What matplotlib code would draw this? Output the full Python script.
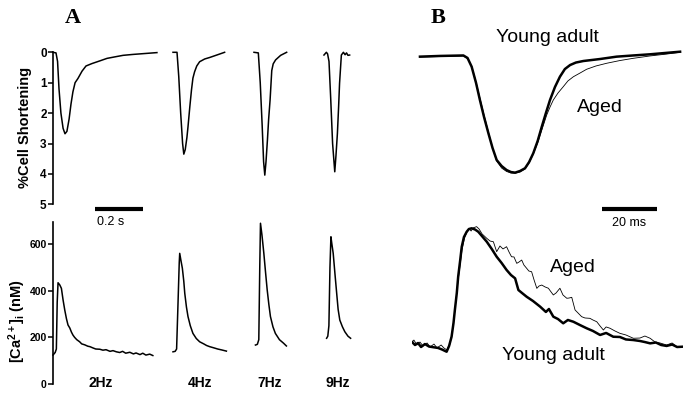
import matplotlib
matplotlib.use("Agg")
import matplotlib.pyplot as plt

plt.rcParams['font.family'] = ['Liberation Sans', 'DejaVu Sans']
plt.rcParams['mathtext.fontset'] = 'custom'
plt.rcParams['mathtext.rm'] = 'Liberation Sans:bold'
plt.rcParams['mathtext.it'] = 'Liberation Sans:bold'
plt.rcParams['mathtext.bf'] = 'Liberation Sans:bold'

# ---------------- Panel A data (time in s, relative to each trace start) -------------
freq_labels = ["2Hz", "4Hz", "7Hz", "9Hz"]
trace_start = [0.0, 0.5, 0.8375, 1.129]      # position of each trace on the time axis (s)
ca_start = [0.0, 0.5, 0.8435, 1.14]

short_2hz_t = [0, .0125, .019, .025, .033, .042, .050, .058, .067, .075, .083, .092, .104,
               .121, .1375, .1625, .196, .225, .258, .292, .333, .383, .433]
short_2hz_v = [0, .02, .3, 1.2, 2.0, 2.5, 2.68, 2.6, 2.2, 1.7, 1.3, 1.0, .86,
               .62, .45, .37, .28, .2, .15, .1, .07, .04, .01]
short_4hz_t = [0, .0167, .024, .032, .040, .045, .051, .058, .0625, .070, .077, .083, .090,
               .099, .111, .132, .153, .186, .215]
short_4hz_v = [0, 0, .8, 2.0, 3.0, 3.35, 3.2, 2.8, 2.45, 1.8, 1.24, .85, .64,
               .45, .31, .22, .17, .08, 0]
short_7hz_t = [0, .018, .026, .034, .040, .045, .050, .056, .061, .067, .074, .080, .090, .111, .136]
short_7hz_v = [0, .02, 1.0, 2.4, 3.6, 4.04, 3.6, 2.88, 2.2, 1.57, .6, .38, .25, .1, 0]
short_9hz_t = [0, .010, .015, .021, .028, .036, .045, .050, .056, .061, .065, .0725, .081,
               .088, .094, .100, .107]
short_9hz_v = [.09, 0, .05, .3, 1.5, 3.0, 3.93, 3.4, 2.67, 1.8, 1.02, .09, 0,
               .08, .02, .1, .09]

ca_2hz_t = [0, .009, .014, .0175, .021, .028, .035, .042, .049, .056, .0625, .070, .077, .083,
            .090, .099, .111, .1195, .132, .145, .154, .1655, .178, .195, .208, .221, .2375,
            .25, .264, .278, .29, .303, .32, .335, .346, .3625, .374, .387, .403, .416]
ca_2hz_v = [124, 135, 150, 350, 434, 425, 410, 360, 317, 280, 253, 240, 222, 210,
            200, 190, 181, 172, 168, 162, 160, 155, 150, 149, 145, 147, 140,
            143, 138, 135, 140, 132, 136, 129, 133, 126, 132, 124, 128, 122]
ca_4hz_t = [0, .009, .015, .021, .026, .028, .033, .039, .045, .049, .056, .0625, .072, .083,
            .097, .111, .128, .140, .153, .170, .186, .203, .2225]
ca_4hz_v = [138, 140, 150, 350, 520, 560, 530, 496, 440, 389, 330, 289, 250, 217,
            195, 181, 172, 165, 160, 155, 150, 146, 141]
ca_7hz_t = [0, .008, .014, .018, .021, .027, .035, .042, .049, .056, .0625, .073, .083, .100, .117, .129]
ca_7hz_v = [167, 170, 190, 500, 689, 640, 560, 480, 403, 340, 289, 245, 217, 190, 175, 163]
ca_9hz_t = [0, .005, .0096, .014, .018, .022, .0275, .035, .042, .048, .055, .066, .076, .089, .100]
ca_9hz_v = [196, 205, 250, 500, 631, 600, 560, 470, 389, 320, 274, 245, 224, 205, 196]

short_ticks = [0, 1, 2, 3, 4, 5]
ca_ticks = [0, 200, 400, 600]

# ---------------- Panel B data (time in ms, normalised amplitude) -------------
bs_young_t = [3.0, 10.3, 18.8, 20.3, 21.8, 23.4, 24.8, 26.3, 27.9, 29.4, 30.9, 32.7, 34.5, 36.1,
              37.6, 39.4, 41.2, 42.7, 44.2, 45.8, 47.3, 48.8, 50.3, 52.1, 53.9, 55.7, 57.6,
              59.7, 62.4, 68.5, 74.5, 80.5, 86.7, 92.1, 97.6]
bs_young_v = [.014, .008, .004, .025, .099, .237, .381, .525, .664, .788, .890, .941, .975, .992,
              .997, .983, .960, .907, .833, .729, .608, .492, .381, .271, .184, .119, .085,
              .064, .051, .034, .014, .004, -.006, -.017, -.028]
bs_aged_t = [3.0, 10.3, 18.8, 20.5, 21.9, 23.4, 24.8, 26.3, 27.9, 29.4, 30.9, 32.7, 34.5, 36.1,
             37.6, 39.4, 41.2, 42.7, 44.2, 45.8, 47.3, 49.1, 50.3, 51.5, 53.2, 55.1, 56.8,
             58.8, 61.2, 63.6, 67.0, 70.9, 75.7, 80.6, 86.7, 92.7, 97.6]
bs_aged_v = [.017, .013, .008, .034, .102, .229, .364, .508, .653, .788, .898, .958, .987, 1.0,
             1.002, .992, .966, .915, .839, .746, .636, .508, .441, .381, .322, .269, .220,
             .184, .153, .121, .093, .070, .047, .028, .008, -.008, -.023]

bc_young_t = [0, 1.2, 2.3, 3.4, 4.8, 6.3, 7.9, 9.6, 11.0, 12.7, 13.6, 14.5, 15.2, 15.7, 16.4,
              16.9, 17.6, 18.2, 19.0, 20.0, 20.8, 21.8, 23.0, 24.2, 25.7, 27.3, 29.1, 30.9,
              32.7, 34.5, 36.1, 37.6, 38.8, 40.1, 41.8, 44.1, 46.7, 48.8, 49.9, 51.5, 53.2,
              55.1, 56.8, 58.8, 61.2, 63.6, 65.9, 68.5, 70.7, 73.3, 75.7, 77.9, 80.6, 83.0,
              84.8, 86.7, 88.8, 90.7, 92.7, 94.7, 96.5, 98.8]
bc_young_v = [.028, 0, .017, -.017, .008, -.013, -.019, -.025, -.038, -.057, -.008, .070, .186,
              .297, .441, .579, .712, .833, .915, .960, .983, .989, .979, .960, .919, .875,
              .814, .748, .695, .636, .593, .565, .466, .441, .409, .373, .325, .280, .305,
              .240, .220, .184, .212, .197, .169, .142, .119, .085, .102, .070, .068, .047,
              .042, .034, .025, .014, .021, 0, -.008, .004, -.017, -.014]
bc_aged_t = [0, 0.8, 1.9, 3.0, 4.1, 5.6, 6.7, 8.1, 9.2, 10.7, 11.7, 12.8, 13.9, 14.7, 15.4, 16.1,
             16.8, 17.6, 18.3, 19.2, 20.1, 21.0, 21.6, 22.3, 23.6, 24.5, 25.6, 27.3, 28.5, 29.7,
             30.9, 32.1, 33.2, 34.5, 35.4, 36.3, 37.2, 38.2, 39.0, 40.0, 40.8, 41.8, 42.6, 43.6,
             44.5, 45.5, 46.3, 47.3, 48.5, 49.7, 50.7, 51.5, 52.5, 53.9, 55.0, 56.4, 57.2, 58.2,
             59.4, 60.5, 61.8, 63.0, 64.8, 65.9, 67.3, 68.5, 69.7, 70.7, 72.1, 73.9, 75.7, 77.9,
             80.6, 83.0, 84.8, 86.7, 88.5, 90.3, 92.7, 94.7, 96.5, 98.8]
bc_aged_v = [.017, .042, 0, .025, -.008, .017, -.017, .008, -.025, 0, -.025, -.042, .008, .102,
             .229, .381, .534, .678, .805, .907, .958, .983, .966, .992, 1.003, .983, .941, .904,
             .881, .875, .791, .839, .814, .833, .788, .748, .746, .692, .703, .720, .678, .650,
             .627, .621, .551, .480, .500, .508, .492, .481, .449, .424, .441, .481, .424, .396,
             .398, .404, .297, .271, .240, .229, .226, .212, .197, .161, .127, .153, .142, .119,
             .099, .085, .057, .059, .076, .057, .025, .017, 0, .017, -.017, -.014]

# ---------------- figure ----------------
W, H = 689, 396
fig = plt.figure(figsize=(W / 100, H / 100), dpi=100)


def box(x0, x1, y_top, y_bot):
    return [x0 / W, 1 - y_bot / H, (x1 - x0) / W, (y_bot - y_top) / H]


def fx(px):
    return px / W


def fy(py):
    return 1 - py / H


lw_spine = 1.2
# --- Panel A top: cell shortening ---
axA1 = fig.add_axes(box(53, 365, 52.3 - 0.3 * 30.4, 52.3 + 5.3 * 30.4))
axA1.set_xlim(0, 1.3)
axA1.set_ylim(5.3, -0.3)
for (tt, vv), off in zip([(short_2hz_t, short_2hz_v), (short_4hz_t, short_4hz_v),
                          (short_7hz_t, short_7hz_v), (short_9hz_t, short_9hz_v)], trace_start):
    axA1.plot([off + t for t in tt], vv, color='black', lw=1.1, clip_on=False)
axA1.set_yticks(short_ticks)
axA1.set_yticklabels([str(v) for v in short_ticks], fontsize=8.5, fontweight='bold')
axA1.spines['left'].set_bounds(0, 5)

# --- Panel A bottom: calcium ---
axA2 = fig.add_axes(box(53, 365, 384 - 720 * 0.2333, 384 + 20 * 0.2333))
axA2.set_xlim(0, 1.3)
axA2.set_ylim(-20, 720)
for (tt, vv), off in zip([(ca_2hz_t, ca_2hz_v), (ca_4hz_t, ca_4hz_v),
                          (ca_7hz_t, ca_7hz_v), (ca_9hz_t, ca_9hz_v)], ca_start):
    axA2.plot([off + t for t in tt], vv, color='black', lw=1.1, clip_on=False)
axA2.set_yticks(ca_ticks)
axA2.set_yticklabels([str(v) for v in ca_ticks], fontsize=7.5, fontweight='bold')
axA2.spines['left'].set_bounds(0, 695)

for ax in (axA1, axA2):
    for s in ('top', 'right', 'bottom'):
        ax.spines[s].set_visible(False)
    ax.spines['left'].set_linewidth(lw_spine)
    ax.set_xticks([])
    ax.tick_params(axis='y', length=3.5, width=1.1, pad=1)
    ax.patch.set_alpha(0)

# 0.2 s scale bar
axA1.plot([(95 - 53) / 240, (95 - 53) / 240 + 0.2], [(209 - 52.3) / 30.4] * 2,
          color='black', lw=3, solid_capstyle='butt', clip_on=False)
fig.text(fx(111), fy(222), "0.2 s", fontsize=9, ha='center', va='center')

for lab, px in zip(freq_labels, [101, 200, 270, 338]):
    fig.text(fx(px), fy(383), lab, fontsize=10, fontweight='bold', ha='center', va='center')

fig.text(fx(25), fy(127), "%Cell Shortening", rotation=90, fontsize=10.5,
         fontweight='bold', ha='center', va='center')
fig.text(fx(17), fy(321), r"[Ca$^{2+}$]$_{\mathrm{i}}$ (nM)", rotation=90, fontsize=10.5,
         fontweight='bold', ha='center', va='center')

fig.text(fx(73), fy(18), "A", fontsize=16, fontweight='bold', family='Liberation Serif',
         ha='center', va='center')
fig.text(fx(438), fy(18), "B", fontsize=16, fontweight='bold', family='Liberation Serif',
         ha='center', va='center')

# --- Panel B top ---
px_per_ms = 2.75
b_x0 = 411.7
b_xmax = 98.8
axB1 = fig.add_axes(box(b_x0, b_x0 + b_xmax * px_per_ms, 55 - 0.212 * 118, 55 + 1.314 * 118))
axB1.set_xlim(0, b_xmax)
axB1.set_ylim(1.314, -0.212)
axB1.plot(bs_aged_t, bs_aged_v, color='black', lw=0.6)
axB1.plot(bs_young_t, bs_young_v, color='black', lw=1.8)
axB1.plot([(601.7 - b_x0) / px_per_ms, (601.7 - b_x0) / px_per_ms + 20], [(209 - 55) / 118] * 2,
          color='black', lw=3, solid_capstyle='butt', clip_on=False)

# --- Panel B bottom ---
axB2 = fig.add_axes(box(b_x0, b_x0 + b_xmax * px_per_ms, 345 - 1.102 * 118, 345 + 0.381 * 118))
axB2.set_xlim(0, b_xmax)
axB2.set_ylim(-0.381, 1.102)
axB2.plot(bc_aged_t, bc_aged_v, color='black', lw=0.6)
axB2.plot(bc_young_t, bc_young_v, color='black', lw=1.8)

for ax in (axB1, axB2):
    ax.set_axis_off()

fig.text(fx(547), fy(38), "Young adult", fontsize=14, ha='center', va='center')
fig.text(fx(600), fy(108), "Aged", fontsize=14, ha='center', va='center')
fig.text(fx(573), fy(268), "Aged", fontsize=14, ha='center', va='center')
fig.text(fx(553), fy(355), "Young adult", fontsize=14, ha='center', va='center')
fig.text(fx(629), fy(223), "20 ms", fontsize=9, ha='center', va='center')

fig.savefig("out.png", dpi=100)
